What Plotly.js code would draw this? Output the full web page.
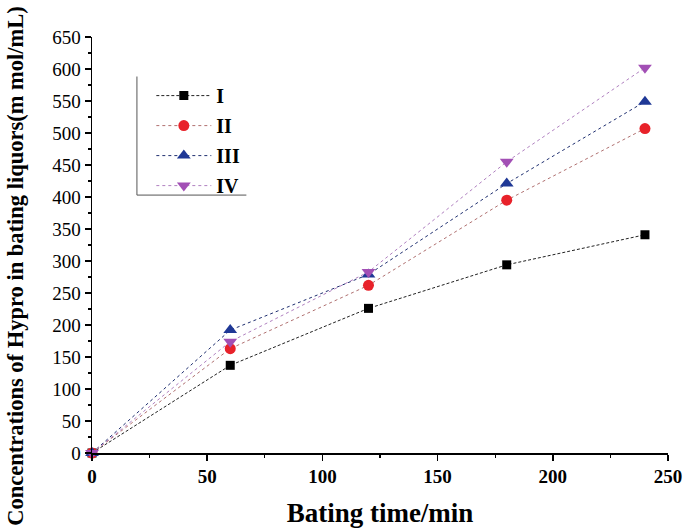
<!DOCTYPE html>
<html>
<head>
<meta charset="utf-8">
<script src="https://cdn.plot.ly/plotly-3.0.1.min.js"></script>
<style>html,body{margin:0;padding:0;background:#fff;}#chart{width:683px;height:531px;}</style>
</head>
<body>
<div id="chart"></div>
<script>
const times = [0, 60, 120, 180, 240];
const seriesNames = ["I", "II", "III", "IV"];
const valuesI = [0, 137, 226, 294, 341];
const valuesII = [0, 163, 262, 395, 507];
const valuesIII = [0, 192, 279, 421, 549];
const valuesIV = [0, 174, 283, 455, 602];
const xTitle = "Bating time/min";
const yTitle = "Concentrations of Hypro in bating liquors(m mol/mL)";

const serif = "Liberation Serif, Times New Roman, serif";
const styles = [
  {color: "#000000", line: "#222222", symbol: "square", size: 9, dash: "3px,2px"},
  {color: "#e8222a", line: "#b07070", symbol: "circle", size: 11, dash: "dot"},
  {color: "#1f3896", line: "#1f2f70", symbol: "triangle-up", size: 12, dash: "dot"},
  {color: "#a24fb5", line: "#b080c0", symbol: "triangle-down", size: 12, dash: "dot"}
];
const allValues = [valuesI, valuesII, valuesIII, valuesIV];

const traces = allValues.map((v, i) => ({
  x: times, y: v, name: "<b>" + seriesNames[i] + "</b>", type: "scatter", mode: "lines+markers",
  cliponaxis: false,
  legendgroup: "g" + i,
  line: {color: styles[i].line, width: 1, dash: styles[i].dash},
  marker: {color: styles[i].color, symbol: styles[i].symbol, size: styles[i].size}
}));

const layout = {
  width: 683, height: 531,
  margin: {l: 92, r: 15, t: 37, b: 78},
  paper_bgcolor: "#fff", plot_bgcolor: "#fff",
  showlegend: true,
  legend: {
    x: 0.103, y: 0.906, xanchor: "left", yanchor: "top",
    font: {family: serif, size: 20, color: "#000"},
    bgcolor: "rgba(0,0,0,0)", borderwidth: 0,
    itemwidth: 55,
    traceorder: "grouped", tracegroupgap: 1
  },
  xaxis: {
    range: [0, 250], dtick: 50, tick0: 0,
    showline: true, linecolor: "#000", linewidth: 1.5,
    ticks: "outside", ticklen: 6, tickwidth: 1.5, tickcolor: "#000",
    minor: {dtick: 25, ticks: "outside", ticklen: 3, tickwidth: 1.2, tickcolor: "#000"},
    showgrid: false, zeroline: false,
    ticklabeloverflow: "allow",
    tickfont: {family: serif, size: 19, color: "#000", weight: "bold"},
    title: {text: "<b>" + xTitle + "</b>", font: {family: serif, size: 27, color: "#000"}, standoff: 17}
  },
  yaxis: {
    range: [0, 650], dtick: 50, tick0: 0,
    showline: true, linecolor: "#000", linewidth: 1.5,
    ticks: "outside", ticklen: 6, tickwidth: 1.5, tickcolor: "#000",
    minor: {dtick: 25, ticks: "outside", ticklen: 3, tickwidth: 1.2, tickcolor: "#000"},
    showgrid: false, zeroline: false,
    tickfont: {family: serif, size: 19, color: "#000"}
  },
  annotations: [
    {text: "<b>" + yTitle + "</b>", xref: "paper", yref: "paper", x: -0.132, y: 0.45,
     xanchor: "center", yanchor: "middle", textangle: -90, showarrow: false,
     font: {family: serif, size: 22.5, color: "#000"}}
  ],
  shapes: [
    {type: "line", xref: "paper", yref: "paper", x0: 0.078, x1: 0.078, y0: 0.62, y1: 0.905, line: {color: "#555", width: 1}},
    {type: "line", xref: "paper", yref: "paper", x0: 0.078, x1: 0.268, y0: 0.62, y1: 0.62, line: {color: "#555", width: 1}}
  ]
};

Plotly.newPlot("chart", traces, layout, {displayModeBar: false, staticPlot: true});
</script>
</body>
</html>
